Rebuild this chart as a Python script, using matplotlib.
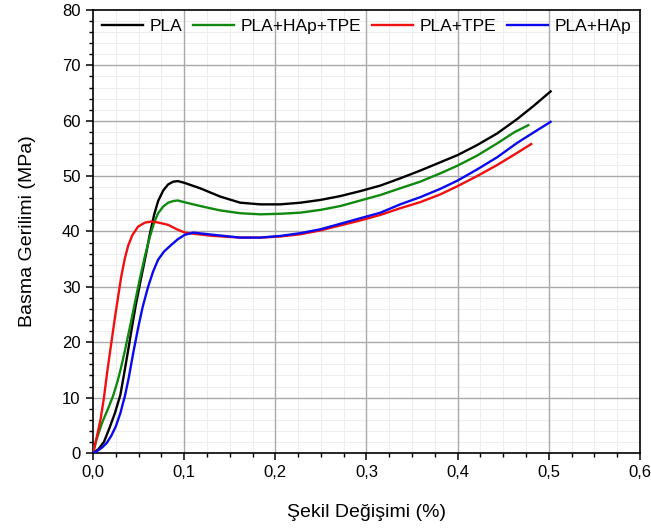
import matplotlib
matplotlib.use("Agg")
import matplotlib.pyplot as plt
from matplotlib.ticker import MultipleLocator, FuncFormatter

plt.rcParams["font.family"] = ["Liberation Sans", "DejaVu Sans"]

# strain (%) / stress (MPa) readings per specimen
pla_strain = [0, 0.006, 0.012, 0.018, 0.024, 0.030, 0.034, 0.039, 0.042, 0.047,
              0.053, 0.058, 0.0623, 0.067, 0.0714, 0.077, 0.0824, 0.088, 0.093,
              0.100, 0.1176, 0.1396, 0.1615, 0.1835, 0.2055, 0.2275, 0.2495,
              0.2714, 0.2934, 0.3154, 0.337, 0.359, 0.381, 0.400, 0.4213, 0.4433,
              0.4653, 0.4835, 0.502]
pla_stress = [0, 0.7, 2.0, 4.5, 7.2, 10.5, 14.2, 19.0, 22.0, 26.8,
              31.8, 35.8, 39.5, 43, 45.5, 47.4, 48.5, 49.0, 49.1,
              48.8, 47.8, 46.3, 45.2, 44.9, 44.9, 45.2, 45.7,
              46.4, 47.3, 48.3, 49.6, 51.0, 52.5, 53.8, 55.6, 57.7,
              60.3, 62.7, 65.3]

hap_tpe_strain = [0, 0.004, 0.010, 0.016, 0.022, 0.027, 0.031, 0.035, 0.0403,
                  0.046, 0.0513, 0.057, 0.0623, 0.067, 0.0714, 0.077, 0.0824,
                  0.088, 0.093, 0.100, 0.1176, 0.1396, 0.1615, 0.1835, 0.2055,
                  0.2275, 0.2495, 0.2714, 0.2934, 0.3154, 0.337, 0.359, 0.381,
                  0.400, 0.4213, 0.4433, 0.462, 0.4775]
hap_tpe_stress = [0, 2.5, 5.5, 7.8, 10.3, 13.0, 15.6, 18.5, 22.6,
                  27.2, 31.4, 35.6, 39.0, 41.6, 43.3, 44.5, 45.2,
                  45.5, 45.6, 45.3, 44.6, 43.8, 43.3, 43.1, 43.2,
                  43.4, 43.9, 44.6, 45.6, 46.6, 47.8, 49.0, 50.5,
                  51.9, 53.7, 55.9, 57.9, 59.2]

tpe_strain = [0, 0.004, 0.0084, 0.012, 0.0157, 0.020, 0.0238, 0.0275, 0.031,
              0.035, 0.0385, 0.043, 0.0495, 0.057, 0.064, 0.072, 0.0824, 0.092,
              0.1007, 0.110, 0.132, 0.1615, 0.1835, 0.2055, 0.2275, 0.2495,
              0.2714, 0.2934, 0.3154, 0.337, 0.359, 0.381, 0.400, 0.4213,
              0.4433, 0.4653, 0.4808]
tpe_stress = [0, 2.8, 6.2, 10, 14.8, 19.8, 24.2, 28.2, 31.9,
              35.2, 37.4, 39.3, 40.9, 41.6, 41.8, 41.6, 41.2, 40.4,
              39.8, 39.6, 39.2, 38.9, 38.9, 39.1, 39.5, 40.2,
              41.1, 42.0, 43.0, 44.2, 45.3, 46.7, 48.2, 50.0,
              52.0, 54.2, 55.8]

hap_strain = [0, 0.005, 0.010, 0.015, 0.020, 0.025, 0.030, 0.035, 0.0392,
              0.0445, 0.0495, 0.0545, 0.0604, 0.066, 0.0714, 0.078, 0.086,
              0.093, 0.1007, 0.110, 0.132, 0.1615, 0.1835, 0.2055, 0.2275,
              0.2495, 0.2714, 0.2934, 0.3154, 0.337, 0.359, 0.381, 0.400,
              0.4213, 0.4433, 0.4653, 0.4835, 0.502]
hap_stress = [0, 0.4, 1.0, 1.8, 3.1, 4.8, 7.2, 10.3, 13.6,
              18.4, 22.6, 26.4, 30.0, 32.8, 34.9, 36.4, 37.6,
              38.6, 39.4, 39.8, 39.4, 38.9, 38.9, 39.2, 39.7,
              40.4, 41.4, 42.4, 43.4, 44.9, 46.2, 47.7, 49.2,
              51.2, 53.4, 56.0, 57.9, 59.8]

series = [
    ("PLA", pla_strain, pla_stress, "#000000"),
    ("PLA+HAp+TPE", hap_tpe_strain, hap_tpe_stress, "#0f8a0f"),
    ("PLA+TPE", tpe_strain, tpe_stress, "#f01010"),
    ("PLA+HAp", hap_strain, hap_stress, "#0a0af0"),
]

fig = plt.figure(figsize=(6.51, 5.29), dpi=100)
ax = fig.add_axes([0.1429, 0.1437, 0.8401, 0.8374])

for name, x, y, c in series:
    ax.plot(x, y, color=c, lw=1.7, label=name, zorder=3)

ax.set_xlim(0, 0.6)
ax.set_ylim(0, 80)
ax.xaxis.set_major_locator(MultipleLocator(0.1))
ax.xaxis.set_minor_locator(MultipleLocator(0.025))
ax.yaxis.set_major_locator(MultipleLocator(10))
ax.yaxis.set_minor_locator(MultipleLocator(2))
ax.xaxis.set_major_formatter(FuncFormatter(lambda v, p: f"{v:.1f}".replace(".", ",")))

# light minor grid from the axis, darker major grid drawn on top of it
ax.grid(which="minor", color="#eeeeee", lw=0.8)
ax.set_axisbelow(True)
for xv in ax.get_xticks():
    if 0 < xv < 0.6:
        ax.axvline(xv, color="#a9a9a9", lw=1.0, zorder=1)
for yv in ax.get_yticks():
    if 0 < yv < 80:
        ax.axhline(yv, color="#a9a9a9", lw=1.0, zorder=1)

ax.tick_params(which="major", direction="out", length=5, width=1.1, labelsize=12, pad=4)
ax.tick_params(which="minor", direction="out", length=3, width=1.0)
for s in ax.spines.values():
    s.set_linewidth(1.2)

ax.set_xlabel("Şekil Değişimi (%)", fontsize=14, labelpad=17)
ax.set_ylabel("Basma Gerilimi (MPa)", fontsize=14, labelpad=19)

ax.legend(loc="upper left", ncol=4, frameon=False, fontsize=12.5, mode="expand",
          bbox_to_anchor=(0.0, 1.0, 1.0, 0.0), handlelength=2.4, handletextpad=0.35,
          borderaxespad=0.1, columnspacing=0.6)

fig.savefig("out.png", dpi=100)
